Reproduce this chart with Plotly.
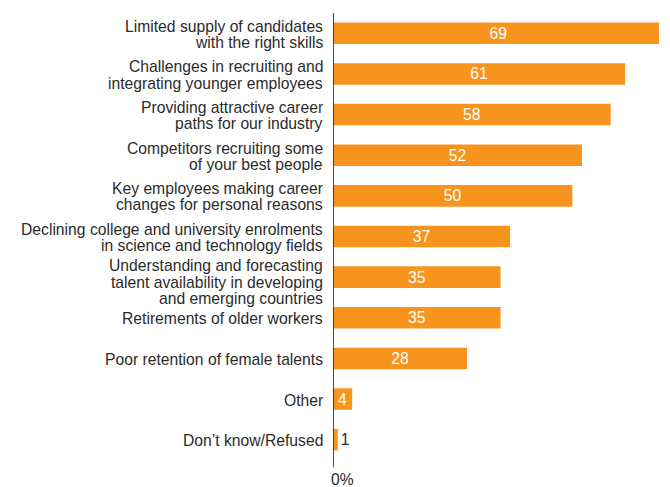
import plotly.graph_objects as go

# Survey responses: share of respondents citing each talent challenge (%)
categories = [
    "Limited supply of candidates<br>with the right skills",
    "Challenges in recruiting and<br>integrating younger employees",
    "Providing attractive career<br>paths for our industry",
    "Competitors recruiting some<br>of your best people",
    "Key employees making career<br>changes for personal reasons",
    "Declining college and university enrolments<br>in science and technology fields",
    "Understanding and forecasting<br>talent availability in developing<br>and emerging countries",
    "Retirements of older workers",
    "Poor retention of female talents",
    "Other",
    "Don\u2019t know/Refused",
]
values = [69, 61, 58, 52, 50, 37, 35, 35, 28, 4, 1]

bar_color = "#F7941D"
text_color = "#2b2b2b"
font_family = "Liberation Sans, Arial, Helvetica, sans-serif"
font_size = 15.7
line_height = 16.2

positions = ["inside" if v >= 3 else "outside" for v in values]
text_colors = ["white" if v >= 3 else text_color for v in values]

fig = go.Figure(
    go.Bar(
        x=values,
        y=categories,
        orientation="h",
        marker=dict(color=bar_color, line=dict(width=0)),
        width=0.53,
        text=[str(v) for v in values],
        textposition=positions,
        insidetextanchor="middle",
        textangle=0,
        textfont=dict(color=text_colors, size=font_size, family=font_family),
        constraintext="none",
        cliponaxis=True,
        hoverinfo="skip",
    )
)

fig.update_layout(
    width=670,
    height=487,
    margin=dict(l=333, r=11, t=13, b=27),
    paper_bgcolor="white",
    plot_bgcolor="white",
    showlegend=False,
    font=dict(family=font_family, size=font_size, color=text_color),
    xaxis=dict(
        range=[0, 68.1],
        showgrid=False,
        zeroline=False,
        showticklabels=False,
        showline=False,
        fixedrange=True,
    ),
    yaxis=dict(
        autorange="reversed",
        showgrid=False,
        zeroline=False,
        showline=False,
        ticks="",
        showticklabels=False,
    ),
)

# Category labels, one annotation per line for tight line spacing
for cat in categories:
    lines = cat.split("<br>")
    n = len(lines)
    block_shift = -5 if n >= 3 else -1
    for i, line in enumerate(lines):
        fig.add_annotation(
            x=0, y=cat, xref="x", yref="y",
            text=line, showarrow=False,
            xanchor="right", yanchor="middle",
            xshift=-8,
            yshift=((n - 1) / 2 - i) * line_height + block_shift,
            font=dict(size=font_size, color=text_color, family=font_family),
        )

# Vertical baseline at zero
fig.add_shape(
    type="line", xref="x", yref="paper",
    x0=0, x1=0, y0=-0.016, y1=1.0,
    line=dict(color="#222222", width=1.6),
)

# Axis unit label under the baseline
fig.add_annotation(
    x=0, y=0, xref="x", yref="paper",
    text="0%", showarrow=False,
    xanchor="center", yanchor="middle",
    xshift=9, yshift=-19,
    borderpad=0,
    font=dict(size=font_size, color=text_color, family=font_family),
)

fig.write_html("out.html")
